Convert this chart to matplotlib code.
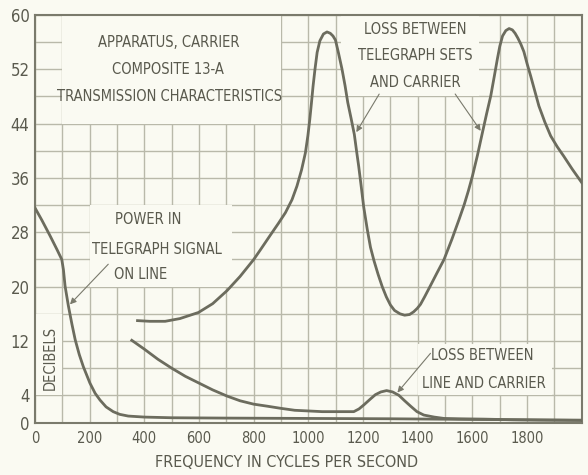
import numpy as np
import matplotlib
matplotlib.use('Agg')
import matplotlib.pyplot as plt
from matplotlib.patches import Rectangle
from matplotlib import font_manager

# frequency (cycles per second) / decibels
power_f = [0, 25, 55, 80, 98, 104, 110, 122, 135, 147, 162, 177, 201, 220,
           238, 260, 286, 310, 341, 400, 500, 700, 1000, 1300, 1600, 2000]
power_db = [31.6, 29.8, 27.5, 25.5, 24.0, 22.5, 20.1, 17.2, 14.5, 12.2, 10.0,
            8.2, 5.8, 4.3, 3.3, 2.3, 1.6, 1.2, 0.95, 0.8, 0.7, 0.65, 0.6,
            0.55, 0.45, 0.35]

sets_f = [375, 420, 476, 530, 598, 650, 702, 750, 800, 824, 861, 890, 916,
          940, 958, 975, 989, 998, 1005, 1011, 1017, 1024, 1032, 1042, 1055,
          1068, 1080, 1090, 1099, 1110, 1123, 1134, 1144, 1156, 1168, 1176,
          1184, 1193, 1202, 1215, 1227, 1240, 1255, 1270, 1285, 1300, 1315,
          1335, 1352, 1370, 1385, 1398, 1410, 1425, 1447, 1470, 1496, 1525,
          1551, 1570, 1585, 1600, 1618, 1636, 1652, 1667, 1680, 1691, 1700,
          1710, 1722, 1734, 1746, 1756, 1766, 1777, 1788, 1800, 1813, 1828,
          1843, 1865, 1886, 1910, 1934, 1965, 2000]
sets_db = [15.0, 14.9, 14.9, 15.3, 16.2, 17.5, 19.4, 21.5, 24.0, 25.4, 27.6,
           29.3, 30.9, 32.8, 34.8, 37.2, 39.7, 42.2, 44.6, 47.0, 49.5, 52.0,
           54.5, 56.2, 57.2, 57.5, 57.3, 56.9, 56.3, 54.4, 52.0, 49.6, 47.1,
           44.8, 42.4, 40.0, 37.7, 34.8, 31.8, 28.5, 25.8, 23.8, 21.8, 20.0,
           18.5, 17.3, 16.5, 16.0, 15.8, 15.9, 16.3, 16.8, 17.4, 18.5, 20.2,
           22.0, 24.0, 27.0, 29.9, 32.1, 34.1, 36.3, 39.3, 42.6, 45.5, 48.1,
           51.0, 53.5, 55.4, 56.9, 57.7, 58.0, 57.8, 57.3, 56.6, 55.7, 54.6,
           52.8, 51.0, 48.8, 46.6, 44.2, 42.2, 40.6, 39.2, 37.3, 35.3]

line_f = [354, 400, 450, 500, 550, 600, 650, 702, 750, 800, 850, 897, 950,
          1001, 1050, 1100, 1166, 1185, 1203, 1225, 1245, 1265, 1286, 1308,
          1331, 1352, 1374, 1397, 1422, 1460, 1496, 1550, 1641, 1750, 1850,
          2000]
line_db = [12.1, 10.8, 9.3, 8.0, 6.8, 5.8, 4.8, 3.9, 3.2, 2.7, 2.4, 2.1, 1.8,
           1.7, 1.6, 1.6, 1.6, 2.0, 2.6, 3.4, 4.1, 4.5, 4.7, 4.5, 4.0, 3.2,
           2.4, 1.6, 1.1, 0.8, 0.6, 0.55, 0.5, 0.4, 0.35, 0.3]

x_ticks = [0, 200, 400, 600, 800, 1000, 1200, 1400, 1600, 1800]
y_ticks = [0, 4, 12, 20, 28, 36, 44, 52, 60]

paper = '#fafaf2'
ink = '#5a5a4e'
curve = '#6c6c5e'
grid = '#b9b9aa'

names = {f.name for f in font_manager.fontManager.ttflist}
narrow = [n for n in ['Liberation Sans Narrow', 'DejaVu Sans Condensed']
          if n in names]
plt.rcParams['font.family'] = narrow + ['DejaVu Sans']
plt.rcParams['font.stretch'] = 'condensed'

fig = plt.figure(figsize=(5.88, 4.75), dpi=100, facecolor=paper)
ax = fig.add_axes([0.0595, 0.1105, 0.930, 0.858], facecolor=paper)

ax.set_xlim(0, 2000)
ax.set_ylim(0, 60)
ax.set_xticks(x_ticks)
ax.set_yticks(y_ticks)
ax.set_xticks(np.arange(0, 2001, 100), minor=True)
ax.set_yticks(np.arange(0, 61, 4), minor=True)
ax.grid(True, which='both', color=grid, lw=1.0, zorder=0)
ax.set_axisbelow(True)
ax.tick_params(which='both', length=0, colors=ink)
ax.tick_params(axis='y', labelsize=12, pad=4)
ax.tick_params(axis='x', labelsize=10.5, pad=6)
for s in ax.spines.values():
    s.set_color('#7a7a6c')
    s.set_linewidth(1.5)

# white label boxes that blank the grid
for x0, y0, w, h in [(100, 44, 800, 16), (1120, 48, 505, 12),
                     (1400, 4, 490, 7.5), (200, 20, 520, 12),
                     (0, 4, 100, 12)]:
    ax.add_patch(Rectangle((x0, y0), w, h, facecolor=paper, edgecolor='none',
                           zorder=1))

ax.plot(power_f, power_db, color=curve, lw=2, zorder=3)
ax.plot(sets_f, sets_db, color=curve, lw=2, zorder=3)
ax.plot(line_f, line_db, color=curve, lw=2, zorder=3)

tk = dict(color=ink, fontsize=10.5, ha='center', va='center', zorder=4)
ax.text(491, 56, 'APPARATUS, CARRIER', **tk)
ax.text(488, 52, 'COMPOSITE 13-A', **tk)
ax.text(491, 48, 'TRANSMISSION CHARACTERISTICS', **tk)

ax.text(1392, 57.9, 'LOSS BETWEEN', **tk)
ax.text(1392, 54.0, 'TELEGRAPH SETS', **tk)
ax.text(1392, 50.1, 'AND CARRIER', **tk)

ax.text(415, 29.9, 'POWER IN', **tk)
ax.text(446, 25.5, 'TELEGRAPH SIGNAL', **tk)
ax.text(385, 21.8, 'ON LINE', **tk)

ax.text(1635, 9.8, 'LOSS BETWEEN', **tk)
ax.text(1641, 5.8, 'LINE AND CARRIER', **tk)

ax.text(55, 9.5, 'DECIBELS', rotation=90, **tk)

arrow = dict(arrowstyle='-|>', color='#7a7a6c', lw=0.8, mutation_scale=9)
for start, tip in [((275, 23.6), (121, 17.1)),
                   ((1264, 48.7), (1170, 42.4)),
                   ((1531, 48.7), (1636, 42.6)),
                   ((1453, 10.5), (1319, 4.1))]:
    ax.annotate('', xy=tip, xytext=start, arrowprops=arrow, zorder=4)

fig.text(0.488, 0.027, 'FREQUENCY IN CYCLES PER SECOND', color=ink,
         fontsize=11.5, ha='center', va='center')

fig.savefig('out.png', dpi=100, facecolor=paper)
